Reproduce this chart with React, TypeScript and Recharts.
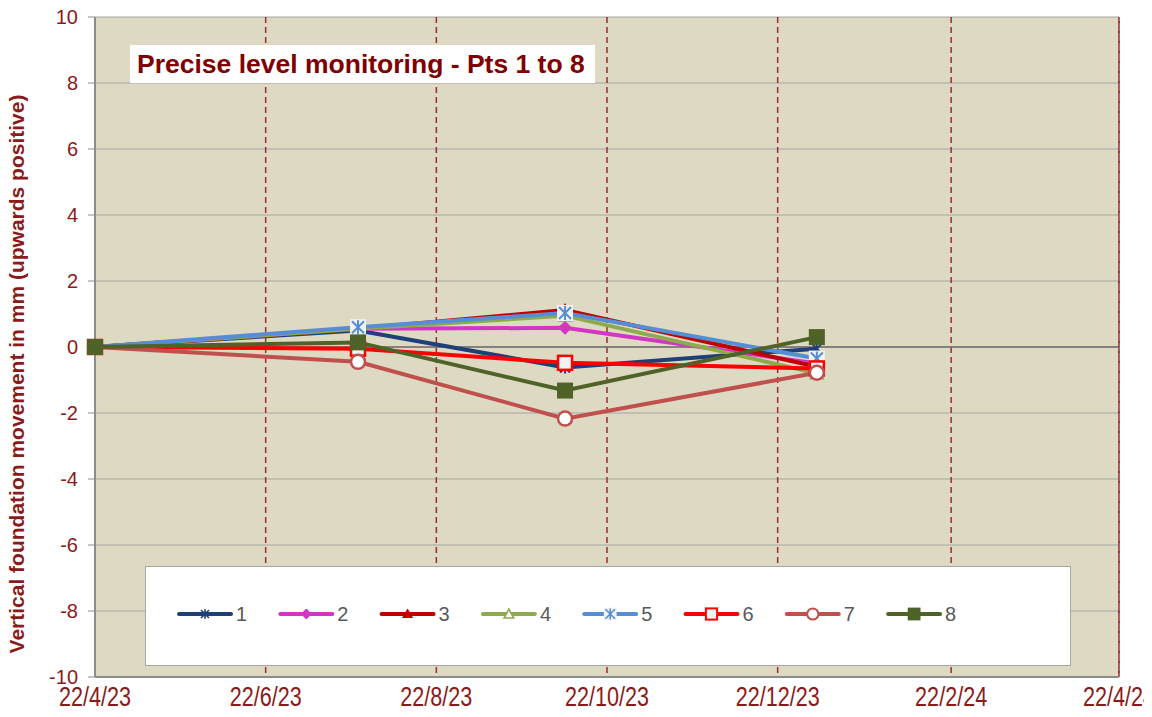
import React from 'react';
import {
  LineChart,
  Line,
  XAxis,
  YAxis,
  CartesianGrid,
  ReferenceLine,
  Legend,
} from 'recharts';

// ---------- data ----------
const surveyDates = ['2023-04-22', '2023-07-25', '2023-10-07', '2024-01-05'];
const pt1 = [0, 0.5, -0.62, -0.05];
const pt2 = [0, 0.55, 0.58, -0.5];
const pt3 = [0, 0.55, 1.12, -0.6];
const pt4 = [0, 0.55, 0.95, -0.8];
const pt5 = [0, 0.6, 1.03, -0.35];
const pt6 = [0, -0.05, -0.48, -0.65];
const pt7 = [0, -0.45, -2.17, -0.78];
const pt8 = [0, 0.14, -1.32, 0.3];

const seriesNames = ['1', '2', '3', '4', '5', '6', '7', '8'];
const seriesValues = [pt1, pt2, pt3, pt4, pt5, pt6, pt7, pt8];
const seriesColors = ['#1F3F78', '#D335C6', '#C00000', '#8FAA4E', '#558ED5', '#FF0000', '#C0504D', '#4F6228'];
const seriesMarkers = ['asterisk', 'diamond', 'triangle', 'triangleOpen', 'asteriskBox', 'squareOpen', 'circleOpen', 'square'];

const xTickDates = ['2023-04-22', '2023-06-22', '2023-08-22', '2023-10-22', '2023-12-22', '2024-02-22', '2024-04-22'];
const xTickLabels = ['22/4/23', '22/6/23', '22/8/23', '22/10/23', '22/12/23', '22/2/24', '22/4/24'];
const yTicks = [-10, -8, -6, -4, -2, 0, 2, 4, 6, 8, 10];

const TITLE = 'Precise level monitoring - Pts 1 to 8';
const Y_LABEL = 'Vertical foundation movement in mm (upwards positive)';

// ---------- derived ----------
const toTime = (s: string) => new Date(s + 'T00:00:00Z').getTime();
const xTicks = xTickDates.map(toTime);
const rows = surveyDates.map((d, i) => {
  const r: Record<string, number> = { t: toTime(d) };
  seriesNames.forEach((n, k) => {
    r['s' + n] = seriesValues[k][i];
  });
  return r;
});

const DARK_RED = '#8B1A1A';
const FONT = "'Liberation Sans', Arial, sans-serif";

function markerShape(kind: string, cx: number, cy: number, color: string) {
  switch (kind) {
    case 'asterisk':
      return (
        <>
          <line x1={cx} y1={cy - 6} x2={cx} y2={cy + 6} stroke={color} strokeWidth={2} />
          <line x1={cx - 5} y1={cy - 5} x2={cx + 5} y2={cy + 5} stroke={color} strokeWidth={2} />
          <line x1={cx - 5} y1={cy + 5} x2={cx + 5} y2={cy - 5} stroke={color} strokeWidth={2} />
        </>
      );
    case 'asteriskBox':
      return (
        <>
          <rect x={cx - 8} y={cy - 8} width={16} height={16} fill="#F2F2F2" />
          <line x1={cx} y1={cy - 7} x2={cx} y2={cy + 7} stroke={color} strokeWidth={2} />
          <line x1={cx - 6} y1={cy - 6} x2={cx + 6} y2={cy + 6} stroke={color} strokeWidth={2} />
          <line x1={cx - 6} y1={cy + 6} x2={cx + 6} y2={cy - 6} stroke={color} strokeWidth={2} />
        </>
      );
    case 'diamond':
      return <polygon points={`${cx},${cy - 7} ${cx + 7},${cy} ${cx},${cy + 7} ${cx - 7},${cy}`} fill={color} />;
    case 'triangle':
      return <polygon points={`${cx},${cy - 7} ${cx + 7},${cy + 5} ${cx - 7},${cy + 5}`} fill={color} />;
    case 'triangleOpen':
      return (
        <polygon
          points={`${cx},${cy - 6} ${cx + 6},${cy + 5} ${cx - 6},${cy + 5}`}
          fill="#FFFFFF"
          stroke={color}
          strokeWidth={2}
        />
      );
    case 'squareOpen':
      return <rect x={cx - 7} y={cy - 7} width={14} height={14} fill="#F2F2F2" stroke={color} strokeWidth={2.5} />;
    case 'circleOpen':
      return <circle cx={cx} cy={cy} r={7} fill="#FFFFFF" stroke={color} strokeWidth={2.5} />;
    case 'square':
    default:
      return <rect x={cx - 8} y={cy - 8} width={16} height={16} fill={color} />;
  }
}

function renderMarker(kind: string, cx: number, cy: number, color: string, key?: string | number, scale = 1) {
  if (cx == null || cy == null || isNaN(cx) || isNaN(cy)) return <g key={key} />;
  return (
    <g key={key} transform={`translate(${cx} ${cy}) scale(${scale}) translate(${-cx} ${-cy})`}>
      {markerShape(kind, cx, cy, color)}
    </g>
  );
}

const LegendContent = () => {
  const startX = 33;
  const step = 101.3;
  const cy = 47;
  return (
    <svg width={924} height={98} style={{ display: 'block' }}>
      {seriesNames.map((n, i) => {
        const x0 = startX + i * step;
        return (
          <g key={n}>
            <line x1={x0} y1={cy} x2={x0 + 52} y2={cy} stroke={seriesColors[i]} strokeWidth={4} strokeLinecap="round" />
            {renderMarker(seriesMarkers[i], x0 + 26, cy, seriesColors[i], undefined, 0.8)}
            <text x={x0 + 57} y={cy + 7} fill="#595959" fontSize={20} fontFamily={FONT}>
              {n}
            </text>
          </g>
        );
      })}
    </svg>
  );
};

const YLabel = () => (
  <text
    x={16}
    y={366}
    transform="rotate(-90 16 366)"
    textAnchor="middle"
    fill={DARK_RED}
    fontSize={21}
    fontWeight="bold"
    fontFamily={FONT}
  >
    {Y_LABEL}
  </text>
);

const XTick = (props: any) => {
  const { x, y, payload } = props;
  const idx = xTicks.indexOf(payload.value);
  const label = idx >= 0 ? xTickLabels[idx] : '';
  return (
    <g transform={`translate(${x} ${y})`}>
      <text
        x={0}
        y={0}
        dy={21}
        transform="scale(0.8 1)"
        textAnchor="middle"
        fill={DARK_RED}
        fontSize={27}
        fontFamily={FONT}
      >
        {label}
      </text>
    </g>
  );
};

export default function App() {
  return (
    <div style={{ position: 'relative', width: 1144, height: 709 }}>
      <LineChart width={1144} height={709} data={rows} margin={{ top: 9, right: 33, bottom: 0, left: 0 }}>
        <CartesianGrid vertical={false} stroke="#A6A6A6" strokeWidth={1} fill="#DDD9C3" />
        <CartesianGrid horizontal={false} stroke="#9B2D30" strokeWidth={1.5} strokeDasharray="6 4" />
        <ReferenceLine y={0} stroke="#6E6E6E" strokeWidth={1.5} />
        <XAxis
          dataKey="t"
          type="number"
          domain={[xTicks[0], xTicks[xTicks.length - 1]]}
          ticks={xTicks}
          interval={0}
          height={40}
          axisLine={{ stroke: '#8C8C8C', strokeWidth: 2 }}
          tickLine={false}
          tickSize={0}
          tickMargin={8}
          tick={<XTick />}
        />
        <YAxis
          type="number"
          domain={[-10, 10]}
          ticks={yTicks}
          interval={0}
          width={87}
          axisLine={{ stroke: '#8C8C8C', strokeWidth: 2 }}
          tickLine={{ stroke: '#8C8C8C' }}
          tickSize={7}
          tickMargin={10}
          tick={{ fill: DARK_RED, fontSize: 20, fontFamily: FONT }}
          label={{ value: Y_LABEL, content: () => <YLabel /> }}
        />
        <ReferenceLine x={xTicks[xTicks.length - 1]} stroke="#9B2D30" strokeWidth={1.5} strokeDasharray="6 4" />
        {seriesNames.map((n, i) => (
          <Line
            key={n}
            name={n}
            dataKey={'s' + n}
            type="linear"
            stroke={seriesColors[i]}
            strokeWidth={4}
            isAnimationActive={false}
            activeDot={false}
            dot={(p: any) => renderMarker(seriesMarkers[i], p.cx, p.cy, seriesColors[i], `${n}-${p.index}`)}
          />
        ))}
        <Legend
          verticalAlign="middle"
          layout="horizontal"
          content={() => <LegendContent />}
          wrapperStyle={{
            left: 137,
            top: 558,
            width: 926,
            height: 100,
            background: '#FFFFFF',
            border: '1px solid #A6A6A6',
            boxSizing: 'border-box',
          }}
        />
      </LineChart>
      <div
        style={{
          position: 'absolute',
          left: 122,
          top: 37,
          width: 465,
          height: 38,
          background: '#FFFFFF',
          color: '#800000',
          fontFamily: FONT,
          fontWeight: 'bold',
          fontSize: 26.5,
          lineHeight: '38px',
          paddingLeft: 7,
          boxSizing: 'border-box',
          whiteSpace: 'nowrap',
        }}
      >
        {TITLE}
      </div>
    </div>
  );
}
